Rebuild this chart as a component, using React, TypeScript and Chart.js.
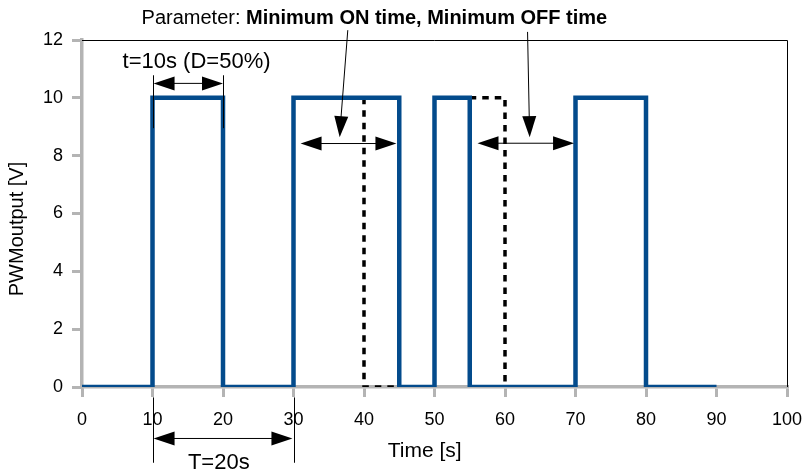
import React, { useEffect, useRef } from "react";
import { Chart, registerables } from "chart.js";

Chart.register(...registerables);

// Blue PWM output signal (step waveform)
const TIME_S = [0, 10, 10, 20, 20, 30, 30, 45, 45, 50, 50, 55, 55, 70, 70, 80, 80, 90];
const PWM_V = [0, 0, 10, 10, 0, 0, 10, 10, 0, 0, 10, 10, 0, 0, 10, 10, 0, 0];

// Dashed "would-be" signal segments
const ON_DASH_T = [40, 40, 45];
const ON_DASH_V = [10, 0, 0];
const OFF_DASH_T = [55, 60, 60];
const OFF_DASH_V = [10, 10, 0];

// Axis ticks
const X_TICKS = [0, 10, 20, 30, 40, 50, 60, 70, 80, 90, 100];
const Y_TICKS = [0, 2, 4, 6, 8, 10, 12];

// Annotation texts
const TITLE_REGULAR = "Parameter: ";
const TITLE_BOLD = "Minimum ON time, Minimum OFF time";
const DUTY_LABEL = "t=10s (D=50%)";
const PERIOD_LABEL = "T=20s";
const X_TITLE = "Time [s]";
const Y_TITLE = "PWMoutput [V]";

const FONT = "'Liberation Sans', Arial, sans-serif";
const BLUE = "#034b8c";
const AXIS_GRAY = "#b4b4b4";

function arrowHead(ctx: CanvasRenderingContext2D, tx: number, ty: number, dx: number, dy: number, len = 21, half = 7) {
  const n = Math.hypot(dx, dy) || 1;
  const ux = dx / n, uy = dy / n;
  const bx = tx - ux * len, by = ty - uy * len;
  ctx.beginPath();
  ctx.moveTo(tx, ty);
  ctx.lineTo(bx - uy * half, by + ux * half);
  ctx.lineTo(bx + uy * half, by - ux * half);
  ctx.closePath();
  ctx.fill();
}

function line(ctx: CanvasRenderingContext2D, x1: number, y1: number, x2: number, y2: number) {
  ctx.beginPath();
  ctx.moveTo(x1, y1);
  ctx.lineTo(x2, y2);
  ctx.stroke();
}

function doubleArrow(ctx: CanvasRenderingContext2D, x1: number, x2: number, y: number) {
  line(ctx, x1 + 10, y, x2 - 10, y);
  arrowHead(ctx, x1, y, -1, 0);
  arrowHead(ctx, x2, y, 1, 0);
}

const framePlugin = {
  id: "frame",
  beforeDatasetsDraw(chart: any) {
    const { ctx, chartArea } = chart;
    ctx.save();
    ctx.strokeStyle = "#000";
    ctx.lineWidth = 1;
    ctx.beginPath();
    ctx.moveTo(chartArea.left, chartArea.top + 0.5);
    ctx.lineTo(chartArea.right + 0.5, chartArea.top + 0.5);
    ctx.lineTo(chartArea.right + 0.5, chartArea.bottom);
    ctx.stroke();
    ctx.restore();
  },
};

const annotationPlugin = {
  id: "annotations",
  afterDraw(chart: any) {
    const { ctx } = chart;
    const xs = chart.scales.x;
    const ys = chart.scales.y;
    const X = (v: number) => xs.getPixelForValue(v);
    const Y = (v: number) => ys.getPixelForValue(v);
    ctx.save();
    ctx.fillStyle = "#000";
    ctx.strokeStyle = "#000";
    ctx.lineWidth = 1;

    // Title
    ctx.textBaseline = "alphabetic";
    ctx.textAlign = "left";
    ctx.font = `20px ${FONT}`;
    const tx = X(8.45), ty = Y(12.55);
    ctx.fillText(TITLE_REGULAR, tx, ty);
    const w = ctx.measureText(TITLE_REGULAR).width;
    ctx.font = `bold 20px ${FONT}`;
    ctx.fillText(TITLE_BOLD, tx + w, ty);

    // Duty label + arrow
    ctx.font = `22px ${FONT}`;
    ctx.textAlign = "center";
    ctx.fillText(DUTY_LABEL, X(16.25), Y(11.03));
    line(ctx, Math.round(X(10)) + 0.5, Y(10.78), Math.round(X(10)) + 0.5, Y(8.95));
    line(ctx, Math.round(X(20)) + 0.5, Y(10.78), Math.round(X(20)) + 0.5, Y(8.95));
    doubleArrow(ctx, X(10.15), X(20), Y(10.5));

    // Period arrow
    line(ctx, Math.round(X(10)) + 0.5, Y(-0.36), Math.round(X(10)) + 0.5, Y(-2.62));
    line(ctx, Math.round(X(30)) + 0.5, Y(-0.36), Math.round(X(30)) + 0.5, Y(-2.62));
    doubleArrow(ctx, X(10.15), X(29.85), Y(-1.78));
    ctx.fillText(PERIOD_LABEL, X(19.4), Y(-2.82));

    // Minimum ON time
    doubleArrow(ctx, X(31), X(44.6), Y(8.42));
    line(ctx, X(37.7), Y(12.34), X(36.7), Y(9.2));
    arrowHead(ctx, X(36.55), Y(8.64), X(36.55) - X(37.7), Y(8.64) - Y(12.34));

    // Minimum OFF time
    doubleArrow(ctx, X(56.1), X(69.8), Y(8.43));
    line(ctx, X(63.2), Y(12.28), X(63.45), Y(9.2));
    arrowHead(ctx, X(63.5), Y(8.64), X(63.5) - X(63.2), Y(8.64) - Y(12.28));

    // Axis titles
    ctx.font = `21px ${FONT}`;
    ctx.textAlign = "center";
    ctx.fillText(X_TITLE, X(48.6), Y(-2.43));
    ctx.font = `20px ${FONT}`;
    ctx.save();
    ctx.translate(23, 229);
    ctx.rotate(-Math.PI / 2);
    ctx.fillText(Y_TITLE, 0, 0);
    ctx.restore();

    ctx.restore();
  },
};

export default function App() {
  const ref = useRef<HTMLCanvasElement | null>(null);

  useEffect(() => {
    if (!ref.current) return;
    const toPts = (xs: number[], ys: number[]) => xs.map((x, i) => ({ x, y: ys[i] }));
    const dashStyle = {
      borderColor: "#000",
      borderWidth: 3.5,
      borderDash: [6.5, 6],
      borderCapStyle: "butt",
      pointRadius: 0,
      tension: 0,
      fill: false,
      order: 1,
    };
    const chart = new Chart(ref.current, {
      type: "line",
      data: {
        datasets: [
          { ...dashStyle, data: toPts(ON_DASH_T, ON_DASH_V) },
          { ...dashStyle, data: toPts(OFF_DASH_T, OFF_DASH_V) },
          {
            data: toPts(TIME_S, PWM_V),
            borderColor: BLUE,
            borderWidth: 4.5,
            borderJoinStyle: "miter",
            borderCapStyle: "butt",
            pointRadius: 0,
            tension: 0,
            fill: false,
            order: 0,
          },
        ],
      },
      options: {
        animation: false,
        responsive: false,
        maintainAspectRatio: false,
        events: [],
        layout: { padding: { top: 40, right: 18, left: 0, bottom: 0 } },
        plugins: {
          legend: { display: false },
          tooltip: { enabled: false },
          title: { display: false },
        },
        scales: {
          x: {
            type: "linear",
            min: 0,
            max: 100,
            afterBuildTicks: (s: any) => {
              s.ticks = X_TICKS.map((v) => ({ value: v }));
            },
            afterFit: (s: any) => {
              s.height = 84;
              s.paddingLeft = 0;
              s.paddingRight = 0;
            },
            grid: {
              drawOnChartArea: false,
              drawTicks: true,
              tickLength: 10,
              color: AXIS_GRAY,
              lineWidth: 3,
            },
            border: { display: true, color: AXIS_GRAY, width: 3.5 },
            ticks: {
              color: "#000",
              font: { family: FONT, size: 18 },
              padding: 12,
              maxRotation: 0,
              autoSkip: false,
            },
          },
          y: {
            type: "linear",
            min: 0,
            max: 12,
            afterBuildTicks: (s: any) => {
              s.ticks = Y_TICKS.map((v) => ({ value: v }));
            },
            afterFit: (s: any) => {
              s.width = 82;
              s.paddingTop = 0;
              s.paddingBottom = 0;
            },
            grid: {
              drawOnChartArea: false,
              drawTicks: true,
              tickLength: 10,
              color: AXIS_GRAY,
              lineWidth: 3,
            },
            border: { display: true, color: AXIS_GRAY, width: 3.5 },
            ticks: {
              color: "#000",
              font: { family: FONT, size: 18 },
              padding: 9,
              autoSkip: false,
            },
          },
        },
      },
      plugins: [framePlugin, annotationPlugin],
    });
    return () => chart.destroy();
  }, []);

  return (
    <div style={{ position: "absolute", left: 0, top: 0, width: 805, height: 471, background: "#fff" }}>
      <canvas ref={ref} width={805} height={471} style={{ width: 805, height: 471, display: "block" }} />
    </div>
  );
}
